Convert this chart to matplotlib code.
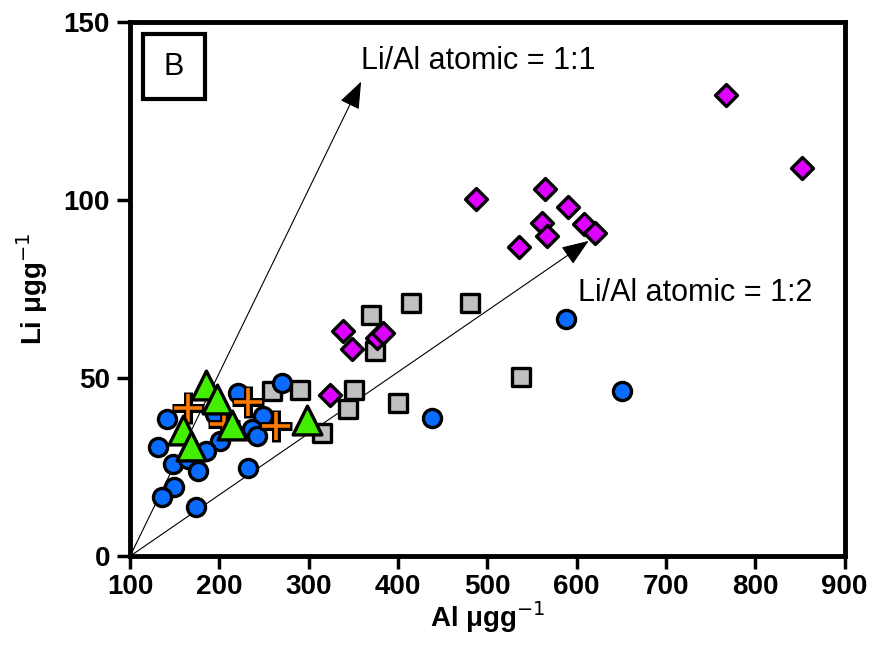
import matplotlib.pyplot as plt
from matplotlib.patches import FancyArrowPatch, Rectangle

plt.rcParams['font.family'] = ['Liberation Sans', 'DejaVu Sans']

# grey squares
sq_al = [414, 480, 370, 374, 290, 259, 351, 344, 400, 315, 538]
sq_li = [71.1, 71.1, 67.7, 57.6, 46.6, 46.3, 46.6, 41.3, 43.0, 34.6, 50.3]

# magenta diamonds
di_al = [767, 852, 487, 564, 590, 561, 567, 608, 621, 535, 338, 349, 376, 383, 324]
di_li = [129.5, 109.0, 100.3, 103.0, 98.0, 93.5, 90.0, 93.3, 90.7, 86.8, 63.2, 58.1, 61.2, 62.6, 45.2]

# blue circles
ci_al = [588, 651, 438, 270, 221, 141, 195, 249, 236, 242, 201, 131, 185, 148, 165, 176, 232, 149, 136, 174]
ci_li = [66.6, 46.3, 38.8, 48.6, 45.8, 38.5, 39.9, 39.3, 35.7, 33.7, 32.3, 30.6, 29.5, 25.8, 27.2, 23.9, 24.7, 19.4, 16.6, 13.8]

# orange pluses
pl_al = [165, 232, 263, 205]
pl_li = [41.6, 43.3, 36.5, 37.0]

# green triangles
tr_al = [185, 197, 159, 168, 214, 298]
tr_li = [48.0, 44.1, 35.4, 30.9, 36.8, 38.2]

# ratio arrows: start, end
arr_11 = [(100, 0), (360, 134)]
arr_12 = [(100, 0), (616, 89)]

fig = plt.figure(figsize=(8.91, 6.52), dpi=100)
ax = fig.add_axes([0.146, 0.147, 0.802, 0.819])

ax.scatter(sq_al, sq_li, marker='s', s=160, c='#c0c0c0', edgecolors='black', linewidths=2.4, zorder=3)
ax.scatter(di_al, di_li, marker='D', s=125, c='#dd00ff', edgecolors='black', linewidths=2.4, zorder=3)
ax.scatter(ci_al, ci_li, marker='o', s=170, c='#0a6cff', edgecolors='black', linewidths=2.4, zorder=4)
ax.plot(pl_al, pl_li, '+', ms=23, mew=6.5, color='black', ls='none', zorder=5)
ax.plot(pl_al, pl_li, '+', ms=20.5, mew=2.6, color='#ff7a00', ls='none', zorder=5.1)
ax.scatter(tr_al, tr_li, marker='^', s=430, c='#44ee00', edgecolors='black', linewidths=2.4, zorder=6)

for a in (arr_11, arr_12):
    ax.add_patch(FancyArrowPatch(a[0], a[1], arrowstyle='-|>,head_length=17,head_width=6.5',
                                 mutation_scale=1, color='black', lw=0.8, zorder=2))

ax.text(359, 139, 'Li/Al atomic = 1:1', fontsize=22, va='center', ha='left')
ax.text(602, 74, 'Li/Al atomic = 1:2', fontsize=22, va='center', ha='left')

# panel label box
ax.add_patch(Rectangle((0.0175, 0.856), 0.088, 0.121, transform=ax.transAxes,
                       fc='white', ec='black', lw=3, zorder=7))
ax.text(0.0615, 0.916, 'B', transform=ax.transAxes, fontsize=22, ha='center', va='center', zorder=8)

ax.set_xlim(100, 900)
ax.set_ylim(0, 150)
ax.set_xticks(range(100, 901, 100))
ax.set_yticks([0, 50, 100, 150])
for s in ax.spines.values():
    s.set_linewidth(3.5)
ax.tick_params(width=2.5, length=9.5, labelsize=20)
ax.tick_params(axis='x', pad=3)
ax.tick_params(axis='y', pad=5)
for lab in ax.get_xticklabels() + ax.get_yticklabels():
    lab.set_fontweight('bold')

ax.set_xlabel(r'Al μgg$^{-1}$', fontsize=20, fontweight='bold', labelpad=0)
ax.set_ylabel(r'Li μgg$^{-1}$', fontsize=20, fontweight='bold', labelpad=10)

fig.savefig('out.png', dpi=100)
